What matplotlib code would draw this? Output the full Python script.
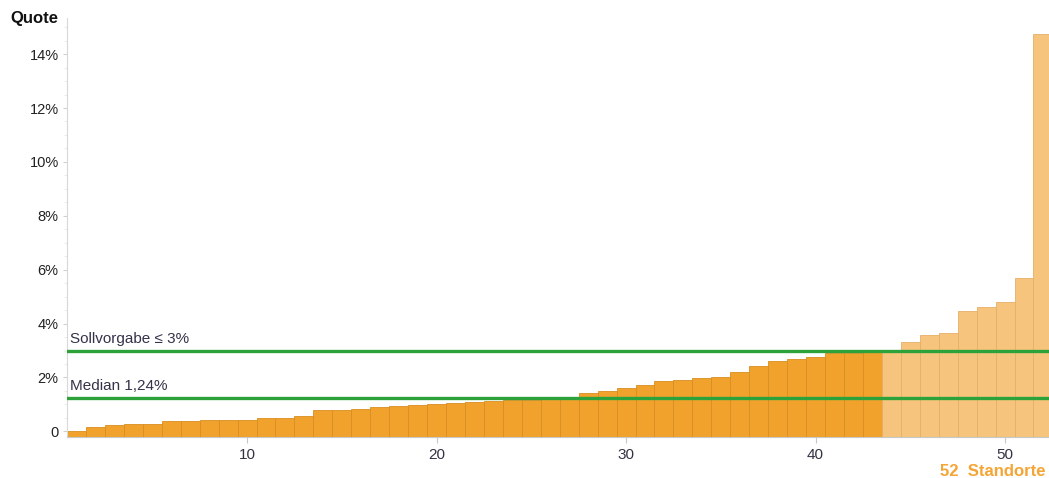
import matplotlib
matplotlib.use("Agg")
import matplotlib.pyplot as plt
from matplotlib.ticker import FixedLocator, MultipleLocator

# ---- data (Quote in %, sorted ascending, 52 Standorte) ----
standorte = list(range(1, 53))
quote = [0.02, 0.17, 0.25, 0.28, 0.28, 0.37, 0.37, 0.41, 0.41, 0.41,
         0.48, 0.50, 0.58, 0.79, 0.79, 0.84, 0.89, 0.93, 0.97, 1.00,
         1.05, 1.10, 1.12, 1.16, 1.16, 1.22, 1.26, 1.41, 1.50, 1.60,
         1.73, 1.86, 1.91, 1.99, 2.00, 2.21, 2.41, 2.60, 2.67, 2.75,
         2.92, 2.92, 2.98, 3.02, 3.32, 3.56, 3.64, 4.48, 4.61, 4.79,
         5.69, 14.73]
sollvorgabe = 3.0
median = 1.24
ytick_values = [0, 2, 4, 6, 8, 10, 12, 14]
ytick_labels = ["0", "2%", "4%", "6%", "8%", "10%", "12%", "14%"]
xtick_values = [10, 20, 30, 40, 50]

plt.rcParams['font.family'] = ['Liberation Sans', 'DejaVu Sans']

fig = plt.figure(figsize=(10.49, 4.78), dpi=100)
ax = fig.add_axes([67 / 1049, (478 - 436.5) / 478, 1 - 67 / 1049, (436.5 - 18) / 478])

ymin, ymax = -0.19, 15.34
dark = "#F0A22C"
light = "#F6C47C"
colors = [dark if v <= sollvorgabe else light for v in quote]
edges = ["#D88E22" if v <= sollvorgabe else "#E6AF68" for v in quote]
heights = [v - ymin for v in quote]
ax.bar(standorte, heights, bottom=ymin, width=1.0, color=colors,
       edgecolor=edges, linewidth=0.6, zorder=2)

ax.axhline(sollvorgabe, color="#2DA13A", linewidth=2.4, zorder=3)
ax.axhline(median, color="#2DA13A", linewidth=2.4, zorder=3)

ax.text(0.65, sollvorgabe + 0.18, "Sollvorgabe \u2264 3%", fontsize=11,
        color="#33334A", ha="left", va="bottom", zorder=4)
ax.text(0.65, median + 0.18, "Median 1,24%", fontsize=11,
        color="#33334A", ha="left", va="bottom", zorder=4)

ax.set_xlim(0.5, 52.32)
ax.set_ylim(ymin, ymax)

ax.yaxis.set_major_locator(FixedLocator(ytick_values))
ax.set_yticklabels(ytick_labels)
ax.yaxis.set_minor_locator(MultipleLocator(0.5))
ax.xaxis.set_major_locator(FixedLocator(xtick_values))
ax.set_xticklabels([str(v) for v in xtick_values])

ax.tick_params(axis="y", which="major", length=3, width=0.8, color="#D0D0D0",
               labelsize=10.5, labelcolor="#222222", pad=3)
ax.tick_params(axis="y", which="minor", length=2, width=0.5, color="#E4E4E4")
ax.tick_params(axis="x", which="major", length=4, width=0.8, color="#C8C8C8",
               labelsize=11, labelcolor="#333344", pad=4, direction="out")

for s in ["top", "right"]:
    ax.spines[s].set_visible(False)
ax.spines["left"].set_color("#D8D8D8")
ax.spines["left"].set_linewidth(0.8)
ax.spines["bottom"].set_color("#C8C8C8")
ax.spines["bottom"].set_linewidth(0.8)

fig.text(10 / 1049, 1 - 18 / 478, "Quote", fontsize=12, fontweight="bold",
         color="#111111", ha="left", va="center")
fig.text(1045 / 1049, 1 - 471 / 478, "52  Standorte", fontsize=12,
         fontweight="bold", color="#F5A535", ha="right", va="center")

fig.savefig("out.png", dpi=100)
